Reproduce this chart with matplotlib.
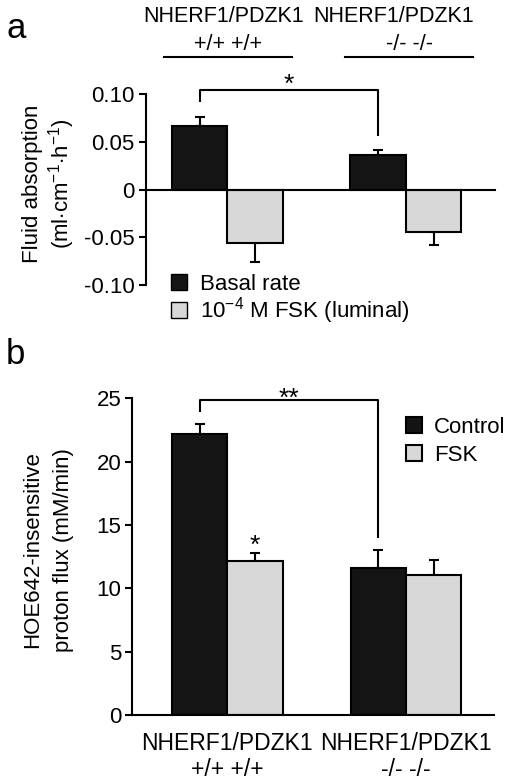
import matplotlib
matplotlib.use("Agg")
import matplotlib.pyplot as plt
from matplotlib.patches import Patch
import numpy as np

plt.rcParams['font.family'] = ['Liberation Sans', 'DejaVu Sans']
plt.rcParams['mathtext.fontset'] = 'custom'
plt.rcParams['mathtext.rm'] = 'Liberation Sans'
plt.rcParams['mathtext.it'] = 'Liberation Sans'
plt.rcParams['font.size'] = 16

groups = ["NHERF1/PDZK1\n+/+ +/+", "NHERF1/PDZK1\n-/- -/-"]

# panel a: fluid absorption
basal = [0.0666, 0.0358]
basal_err = [0.0096, 0.0062]
fsk_a = [-0.0563, -0.0445]
fsk_a_err = [0.0200, 0.0132]

# panel b: proton flux
control = [22.15, 11.63]
control_err = [0.85, 1.37]
fsk_b = [12.15, 11.05]
fsk_b_err = [0.61, 1.21]

black = '#141414'
grey = '#d8d8d8'
lw = 1.5
w = 0.31
x = np.arange(len(groups))

fig = plt.figure(figsize=(5.14, 7.83), dpi=100)


def style(ax):
    for s in ['top', 'right']:
        ax.spines[s].set_visible(False)
    for s in ['left', 'bottom']:
        ax.spines[s].set_linewidth(lw)
    ax.tick_params(axis='y', direction='out', length=5, width=lw, labelsize=16, pad=3)


# ---- panel a ----
ax1 = fig.add_axes([0.284, 0.636, 0.680, 0.2437])
ax1.bar(x - w / 2, basal, w, color=black, edgecolor='black', linewidth=lw, zorder=2)
ax1.bar(x + w / 2, fsk_a, w, color=grey, edgecolor='black', linewidth=lw, zorder=2)
ax1.errorbar(x - w / 2, basal, yerr=[[0, 0], basal_err], fmt='none', ecolor='black',
             elinewidth=lw, capsize=3.5, capthick=lw, zorder=1)
ax1.errorbar(x + w / 2, fsk_a, yerr=[fsk_a_err, [0, 0]], fmt='none', ecolor='black',
             elinewidth=lw, capsize=3.5, capthick=lw, zorder=1)
ax1.set_xlim(-0.455, 1.502)
ax1.set_ylim(-0.10, 0.10)
ax1.set_yticks([-0.10, -0.05, 0, 0.05, 0.10])
ax1.set_yticklabels(['-0.10', '-0.05', '0', '0.05', '0.10'])
style(ax1)
ax1.spines['bottom'].set_position(('data', 0))
ax1.set_xticks([])

# significance bracket a
xa, xb = x[0] - w / 2, x[1] - w / 2
ax1.plot([xa, xa, xb, xb], [0.0914, 0.1046, 0.1046, 0.0562], color='black', lw=lw,
         clip_on=False, solid_capstyle='butt')
ax1.text((xa + xb) / 2, 0.0975, '*', ha='center', va='bottom', fontsize=19)

ax1.legend(handles=[Patch(facecolor=black, edgecolor='black', linewidth=1),
                    Patch(facecolor=grey, edgecolor='black', linewidth=1)],
           labels=['Basal rate', r'10$^{-4}$ M FSK (luminal)'],
           loc='upper left', bbox_to_anchor=(171 / 514, 1 - 274 / 783),
           bbox_transform=fig.transFigure, frameon=False, borderpad=0, borderaxespad=0,
           handlelength=0.7, handleheight=0.7, handletextpad=0.6, labelspacing=0.02,
           fontsize=16)

fig.text(33 / 514, 1 - 184 / 783, 'Fluid absorption', rotation=90, ha='center', va='center', fontsize=16)
fig.text(62 / 514, 1 - 184 / 783, r'(ml$\cdot$cm$^{-1}$$\cdot$h$^{-1}$)', rotation=90,
         ha='center', va='center', fontsize=16)

# top group labels
for cx, lx, sub in [(224, 228, '+/+ +/+'), (394, 409, '-/- -/-')]:
    fig.text(cx / 514, 1 - 17 / 783, 'NHERF1/PDZK1', ha='center', va='center', fontsize=15.5)
    fig.text(lx / 514, 1 - 45 / 783, sub, ha='center', va='center', fontsize=15.5)
for x0, x1 in [(164, 292), (345, 473)]:
    fig.add_artist(plt.Line2D([x0 / 514, x1 / 514], [1 - 56.7 / 783] * 2, color='black', lw=lw))

fig.text(16 / 514, 1 - 29 / 783, 'a', ha='center', va='center', fontsize=25)

# ---- panel b ----
ax2 = fig.add_axes([0.2574, 0.0868, 0.7043, 0.4045])
ax2.bar(x - w / 2, control, w, color=black, edgecolor='black', linewidth=lw, zorder=2,
        label='Control')
ax2.bar(x + w / 2, fsk_b, w, color=grey, edgecolor='black', linewidth=lw, zorder=2,
        label='FSK')
ax2.errorbar(x - w / 2, control, yerr=[[0, 0], control_err], fmt='none', ecolor='black',
             elinewidth=lw, capsize=3.5, capthick=lw, zorder=1)
ax2.errorbar(x + w / 2, fsk_b, yerr=[[0, 0], fsk_b_err], fmt='none', ecolor='black',
             elinewidth=lw, capsize=3.5, capthick=lw, zorder=1)
ax2.set_xlim(-0.532, 1.494)
ax2.set_ylim(0, 25)
ax2.set_yticks([0, 5, 10, 15, 20, 25])
style(ax2)
ax2.set_xticks(x)
ax2.set_xticklabels(groups, fontsize=16.5, linespacing=1.2)
ax2.tick_params(axis='x', length=0, pad=12)

ax2.plot([xa, xa, xb, xb], [23.94, 24.86, 24.86, 13.95], color='black', lw=lw,
         clip_on=False, solid_capstyle='butt')
ax2.text((xa + xb) / 2, 24.03, '**', ha='center', va='bottom', fontsize=19)
ax2.text(x[0] + w / 2, 12.43, '*', ha='center', va='bottom', fontsize=19)

ax2.legend(loc='upper left', bbox_to_anchor=(406 / 514, 1 - 417 / 783),
           bbox_transform=fig.transFigure, frameon=False, borderpad=0, borderaxespad=0,
           handlelength=0.7, handleheight=0.7, handletextpad=0.55, labelspacing=0.3,
           fontsize=16)

fig.text(33 / 514, 1 - 550 / 783, 'HOE642-insensitive', rotation=90, ha='center', va='center', fontsize=16)
fig.text(63 / 514, 1 - 550 / 783, 'proton flux (mM/min)', rotation=90, ha='center', va='center', fontsize=16)

fig.text(15 / 514, 1 - 355 / 783, 'b', ha='center', va='center', fontsize=25)

fig.savefig('out.png', dpi=100)
